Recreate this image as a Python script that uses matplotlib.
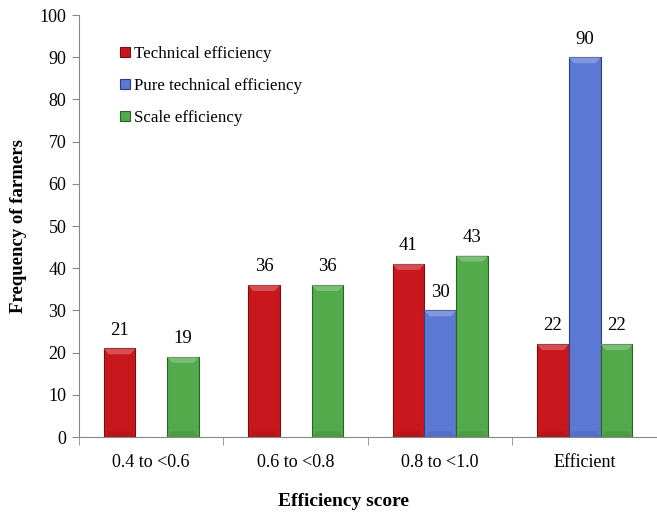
import matplotlib.pyplot as plt
import matplotlib.colors as mcolors
import numpy as np

categories = ['0.4 to <0.6', '0.6 to <0.8', '0.8 to <1.0', 'Efficient']
technical = [21, 36, 41, 22]
pure_technical = [0, 0, 30, 90]
scale = [19, 36, 43, 22]

series = [
    ('Technical efficiency', technical, '#C8181E', '#7a0e10'),
    ('Pure technical efficiency', pure_technical, '#5B78D3', '#2c3f80'),
    ('Scale efficiency', scale, '#52AA4A', '#2b6326'),
]

plt.rcParams['font.family'] = ['Liberation Serif', 'DejaVu Serif']

fig = plt.figure(figsize=(6.57, 5.13), dpi=100)
ax = fig.add_axes([0.1202, 0.1481, 0.8798, 0.8226])

x = np.arange(len(categories))
width = 0.22


def bevel(b, color):
    # light strip on top, darker strip at bottom (excel-like bevel)
    x0, y0 = b.get_x(), b.get_y()
    w, h = b.get_width(), b.get_height()
    dx, dy = 0.035, 1.4
    light = np.array(mcolors.to_rgb(color)) * 0.6 + 0.4
    dark = np.array(mcolors.to_rgb(color)) * 0.85
    ax.fill([x0, x0 + w, x0 + w - dx, x0 + dx], [h, h, h - dy, h - dy],
            color=light, lw=0, zorder=2.5, alpha=0.6)
    ax.fill([x0, x0 + w, x0 + w - dx, x0 + dx], [y0, y0, y0 + dy, y0 + dy],
            color=dark, lw=0, zorder=2.5, alpha=0.5)


for i, (name, vals, color, edge) in enumerate(series):
    pos = x + (i - 1) * width
    vals = np.array(vals)
    shown = vals > 0
    bars = ax.bar(pos[shown], vals[shown], width, color=color, edgecolor=edge,
                  linewidth=0.8, label=name, zorder=2)
    for b, v in zip(bars, vals[shown]):
        bevel(b, color)
        ax.annotate(str(v), (b.get_x() + b.get_width() / 2, v),
                    xytext=(0, 7), textcoords='offset points',
                    ha='center', va='bottom', fontsize=13.5)

ax.set_xlim(-0.5, 3.48)
ax.set_ylim(0, 100)
ax.set_yticks(np.arange(0, 101, 10))
ax.set_xticks(x)
ax.set_xticklabels(categories)
ax.set_xticks(np.arange(-0.5, 4, 1), minor=True)
ax.tick_params(axis='x', which='major', length=0, pad=12, labelsize=13)
ax.tick_params(axis='x', which='minor', length=6, color='#888888')
ax.tick_params(axis='y', length=5, color='#888888', labelsize=13, pad=4)

for side in ['top', 'right']:
    ax.spines[side].set_visible(False)
for side in ['left', 'bottom']:
    ax.spines[side].set_color('#888888')

fig.text(343 / 657, 1 - 502 / 513, 'Efficiency score', fontsize=14,
         fontweight='bold', ha='center', va='center')
ax.set_ylabel('Frequency of farmers', fontsize=13.5, fontweight='bold', labelpad=9)

ax.legend(loc='upper left', bbox_to_anchor=(0.045, 0.962), frameon=False,
          fontsize=12.2, handlelength=0.55, handleheight=0.55, handletextpad=0.25,
          labelspacing=0.93)

fig.savefig('out.png', dpi=100)
